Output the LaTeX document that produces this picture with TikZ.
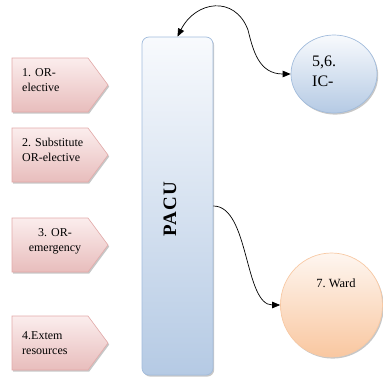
\documentclass[tikz,border=0pt]{standalone}
\usepackage{fontspec}
\setmainfont{Liberation Serif}
\usetikzlibrary{shadows,arrows.meta,shapes.geometric}
\definecolor{pinkedge}{HTML}{E3AAA9}
\definecolor{pinktop}{HTML}{FBEDED}
\definecolor{pinkbot}{HTML}{E8BDBC}
\definecolor{blueedge}{HTML}{A2BCDC}
\definecolor{bluetop}{HTML}{F8FAFD}
\definecolor{bluebot}{HTML}{B5CAE4}
\definecolor{peachedge}{HTML}{F8C9A4}
\definecolor{peachtop}{HTML}{FEF6F0}
\definecolor{peachbot}{HTML}{F9C7A0}
\frenchspacing
\begin{document}
\begin{tikzpicture}[x=1pt,y=-1pt,
  shad/.style={drop shadow={shadow xshift=1.2pt,shadow yshift=-1.6pt,opacity=0.22,fill=black}},
  pent/.style={draw=pinkedge,line width=0.6pt,top color=pinktop,bottom color=pinkbot,shad},
  boxtext/.style={anchor=north west,inner sep=0pt,text width=80pt,align=left,
    font=\fontsize{12}{15}\selectfont},
  pacubox/.style={draw=blueedge,line width=0.7pt,rounded corners=7pt,top color=bluetop,
    bottom color=bluebot,minimum width=71pt,minimum height=338pt,inner sep=0pt,shad},
  bluecirc/.style={ellipse,draw=blueedge,line width=0.7pt,top color=bluetop,bottom color=bluebot,
    minimum width=86pt,minimum height=78pt,inner sep=0pt,shad},
  peachcirc/.style={ellipse,draw=peachedge,line width=0.7pt,top color=peachtop,bottom color=peachbot,
    minimum width=102pt,minimum height=104pt,inner sep=0pt,shad},
  conn/.style={line width=0.7pt,black}
]
\useasboundingbox (0,0) rectangle (383,378);
% pentagon boxes
\foreach \t in {58,128,218,316}{
  \path[pent] (12,\t) -- (88,\t) -- (108,\t+27) -- (88,\t+54) -- (12,\t+54) -- cycle;
}
\node[boxtext] (b1) at (22,68) {1. OR-\\elective};
\node[boxtext] (b2) at (22,138) {2. Substitute\\OR-elective};
\node[boxtext,align=center,text width=70pt,anchor=north] (b3) at (55,228) {3. OR-\\emergency};
\node[boxtext] (b4) at (22,331) {4.Extem\\resources};
% PACU
\node[pacubox] (pacu) at (177.5,206) {};
\node[rotate=90,font=\fontsize{19}{19}\selectfont\bfseries\addfontfeatures{LetterSpace=7}] (pacut) at (170,209) {PACU};
% circles
\node[bluecirc] (c56) at (334,74) {};
\node[anchor=north west,inner sep=0pt,align=left,font=\fontsize{16}{20}\selectfont] (c56t) at (312,56) {5,6.\\IC-};
\node[peachcirc] (ward) at (331.5,305) {};
\node[font=\fontsize{12.5}{15}\selectfont] (wardt) at (336,283) {7. Ward};
% connectors
\coordinate (bend) at (248,30);
\draw[conn,{Triangle[length=8pt,width=6.5pt]}-{Triangle[length=8pt,width=6.5pt]}]
  (pacu.north) .. controls +(18,-36) and +(-13,-35) .. (bend)
  .. controls +(5,20) and +(-32,0) .. (c56.west);
\draw[conn,-{Triangle[length=8pt,width=6.5pt]}]
  (pacu.east) .. controls +(36,0) and +(-36,0) .. (ward.west);
\end{tikzpicture}
\end{document}
